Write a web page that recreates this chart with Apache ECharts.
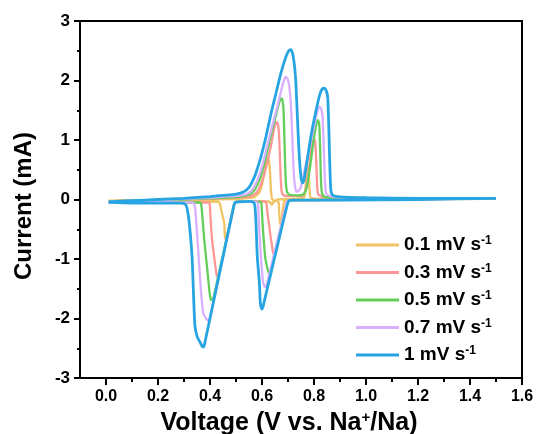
<!DOCTYPE html>
<html>
<head>
<meta charset="utf-8">
<script src="https://cdn.jsdelivr.net/npm/echarts@6/dist/echarts.min.js"></script>
<style>html,body{margin:0;padding:0;background:#fff}#c{width:539px;height:434px}</style>
</head>
<body>
<div id="c"></div>
<script>
// ---- data ----
const rates = ['0.1', '0.3', '0.5', '0.7', '1'];
const colors = ['#f0c364', '#ff9696', '#63cf5a', '#d8b0ff', '#27a5e2'];
const xTickVals = [0, 0.2, 0.4, 0.6, 0.8, 1.0, 1.2, 1.4, 1.6];
const xMinorVals = [0.1, 0.3, 0.5, 0.7, 0.9, 1.1, 1.3, 1.5];
const yTickVals = [-3, -2, -1, 0, 1, 2, 3];

const cv01 = [
  [0.01,-0.02],[0.2,-0.01],[0.4,0.0],[0.5,0.01],[0.57,0.04],[0.59,0.12],[0.60,0.25],[0.61,0.48],[0.617,0.64],[0.622,0.69],[0.627,0.64],[0.631,0.45],[0.635,0.12],[0.640,0.0],[0.65,-0.02],[0.66,0.0],[0.70,0.01],[0.76,0.03],[0.766,0.12],[0.771,0.40],[0.775,0.55],[0.779,0.45],[0.783,0.15],[0.788,0.03],[0.85,0.01],[1.5,0.01],
  [1.5,0.0],[1.0,0.0],[0.8,-0.01],[0.69,-0.01],[0.686,-0.03],[0.683,-0.06],[0.675,-0.38],[0.672,-0.42],[0.669,-0.38],[0.666,-0.2],[0.664,-0.05],[0.655,-0.02],[0.645,-0.04],[0.638,-0.09],[0.632,-0.05],[0.62,-0.03],[0.55,-0.03],[0.50,-0.03],[0.493,-0.06],[0.465,-0.62],[0.461,-0.68],[0.457,-0.60],[0.455,-0.40],[0.449,-0.29],[0.442,-0.15],[0.437,-0.06],[0.43,-0.04],[0.2,-0.04],[0.01,-0.03]
];
const cv03 = [
  [0.01,-0.03],[0.1,-0.02],[0.2,-0.01],[0.3,0.0],[0.4,0.01],[0.5,0.03],[0.56,0.06],[0.58,0.12],[0.60,0.30],[0.62,0.62],[0.635,0.92],[0.645,1.15],[0.652,1.28],[0.657,1.30],[0.662,1.25],[0.666,1.05],[0.670,0.6],[0.674,0.2],[0.680,0.08],[0.70,0.06],[0.75,0.06],[0.76,0.08],[0.77,0.2],[0.78,0.5],[0.79,0.85],[0.796,1.0],[0.800,1.03],[0.805,0.95],[0.809,0.6],[0.812,0.25],[0.816,0.09],[0.83,0.05],[0.9,0.02],[1.5,0.02],
  [1.5,0.01],[1.0,0.0],[0.75,-0.01],[0.70,-0.02],[0.695,-0.06],[0.655,-0.85],[0.651,-0.92],[0.647,-0.93],[0.642,-0.88],[0.635,-0.68],[0.622,-0.26],[0.617,-0.07],[0.612,-0.03],[0.55,-0.03],[0.50,-0.04],[0.494,-0.07],[0.435,-1.25],[0.430,-1.30],[0.426,-1.28],[0.420,-1.10],[0.416,-0.96],[0.408,-0.68],[0.402,-0.30],[0.399,-0.08],[0.394,-0.05],[0.2,-0.05],[0.01,-0.04]
];
const cv05 = [
  [0.01,-0.03],[0.1,-0.02],[0.2,-0.01],[0.3,0.0],[0.4,0.02],[0.5,0.04],[0.55,0.08],[0.57,0.15],[0.59,0.32],[0.61,0.62],[0.63,1.00],[0.65,1.35],[0.663,1.58],[0.670,1.68],[0.675,1.70],[0.679,1.66],[0.683,1.50],[0.687,0.90],[0.691,0.35],[0.696,0.13],[0.706,0.08],[0.74,0.07],[0.76,0.09],[0.772,0.2],[0.785,0.55],[0.797,0.95],[0.807,1.22],[0.813,1.33],[0.817,1.33],[0.821,1.2],[0.824,0.8],[0.827,0.3],[0.831,0.1],[0.84,0.05],[0.9,0.03],[1.2,0.02],[1.5,0.02],
  [1.5,0.01],[1.0,0.0],[0.75,-0.01],[0.70,-0.02],[0.695,-0.07],[0.636,-1.17],[0.632,-1.23],[0.628,-1.24],[0.622,-1.18],[0.612,-0.96],[0.602,-0.39],[0.598,-0.08],[0.593,-0.04],[0.55,-0.03],[0.50,-0.04],[0.493,-0.08],[0.415,-1.62],[0.410,-1.68],[0.405,-1.69],[0.40,-1.62],[0.391,-1.24],[0.378,-0.68],[0.370,-0.25],[0.366,-0.08],[0.36,-0.05],[0.2,-0.05],[0.01,-0.04]
];
const cv07 = [
  [0.01,-0.04],[0.1,-0.02],[0.2,-0.01],[0.3,0.01],[0.4,0.03],[0.5,0.06],[0.54,0.09],[0.56,0.15],[0.58,0.30],[0.60,0.55],[0.62,0.90],[0.64,1.25],[0.66,1.58],[0.675,1.85],[0.685,2.01],[0.692,2.06],[0.698,2.03],[0.705,1.90],[0.711,1.6],[0.716,1.1],[0.721,0.55],[0.726,0.25],[0.733,0.13],[0.742,0.15],[0.75,0.22],[0.775,0.72],[0.80,1.22],[0.812,1.46],[0.820,1.56],[0.827,1.53],[0.833,1.39],[0.837,0.95],[0.840,0.55],[0.844,0.18],[0.850,0.08],[0.88,0.04],[1.0,0.02],[1.5,0.02],
  [1.5,0.01],[1.2,0.0],[0.9,-0.01],[0.72,-0.01],[0.700,-0.02],[0.693,-0.08],[0.62,-1.40],[0.614,-1.47],[0.608,-1.45],[0.603,-1.35],[0.596,-0.96],[0.588,-0.40],[0.585,-0.10],[0.580,-0.04],[0.55,-0.03],[0.51,-0.04],[0.497,-0.05],[0.492,-0.10],[0.402,-1.95],[0.397,-2.02],[0.392,-2.03],[0.385,-2.0],[0.374,-1.91],[0.365,-1.52],[0.352,-0.68],[0.343,-0.15],[0.338,-0.07],[0.33,-0.05],[0.2,-0.05],[0.01,-0.05]
];
const cv10 = [
  [0.01,-0.04],[0.1,-0.02],[0.2,0.0],[0.3,0.02],[0.4,0.05],[0.45,0.07],[0.5,0.09],[0.53,0.13],[0.551,0.21],[0.565,0.32],[0.577,0.45],[0.596,0.72],[0.615,1.05],[0.635,1.45],[0.654,1.79],[0.673,2.13],[0.692,2.40],[0.703,2.50],[0.710,2.52],[0.716,2.48],[0.722,2.35],[0.729,2.05],[0.735,1.50],[0.741,0.92],[0.747,0.50],[0.752,0.32],[0.757,0.28],[0.762,0.34],[0.772,0.61],[0.788,1.06],[0.808,1.50],[0.822,1.76],[0.832,1.86],[0.840,1.87],[0.848,1.82],[0.853,1.70],[0.857,1.20],[0.861,0.55],[0.865,0.15],[0.872,0.07],[0.89,0.05],[1.0,0.03],[1.2,0.02],[1.5,0.02],
  [1.5,0.01],[1.2,0.0],[0.9,-0.01],[0.72,-0.01],[0.705,-0.02],[0.698,-0.08],[0.65,-0.95],[0.612,-1.65],[0.604,-1.80],[0.600,-1.84],[0.596,-1.80],[0.593,-1.70],[0.590,-1.40],[0.582,-0.97],[0.577,-0.40],[0.573,-0.12],[0.568,-0.05],[0.555,-0.03],[0.51,-0.04],[0.497,-0.05],[0.492,-0.10],[0.383,-2.35],[0.378,-2.45],[0.374,-2.48],[0.369,-2.46],[0.362,-2.40],[0.351,-2.31],[0.342,-2.12],[0.336,-1.52],[0.331,-0.96],[0.320,-0.39],[0.312,-0.15],[0.305,-0.08],[0.29,-0.06],[0.2,-0.06],[0.1,-0.06],[0.01,-0.05]
];
const curves = [cv01, cv03, cv05, cv07, cv10];
const widths = [2.3, 2.3, 2.3, 2.3, 2.8];

// ---- chart ----
const FONT = 'Arial, "Liberation Sans", sans-serif';
const chart = echarts.init(document.getElementById('c'), null, {renderer: 'canvas'});
const names = rates.map(r => r + ' mV s-1');
chart.setOption({
  animation: false,
  backgroundColor: '#fff',
  grid: {left: 80, right: 17, top: 21, bottom: 56, containLabel: false, outerBoundsMode: 'none',
         show: true, borderColor: '#000', borderWidth: 2, backgroundColor: 'transparent'},
  legend: {
    orient: 'vertical', left: 351, top: 230, itemGap: 8, itemWidth: 43, itemHeight: 3,
    icon: 'rect', data: names,
    formatter: n => '{t|' + n.replace(' s-1', ' s') + '}{s|-1}',
    textStyle: {
      rich: {
        t: {fontFamily: FONT, fontWeight: 'bold', fontSize: 19, color: '#000', lineHeight: 20},
        s: {fontFamily: FONT, fontWeight: 'bold', fontSize: 12, color: '#000', verticalAlign: 'top', lineHeight: 12}
      }
    }
  },
  xAxis: [{
    type: 'value', min: -0.1, max: 1.6,
    name: '{a|Voltage (V vs. Na}{b|+}{a|/Na)}', nameLocation: 'middle', nameGap: 31,
    nameTextStyle: {padding: [0, 24, 0, 0], rich: {
      a: {fontFamily: FONT, fontWeight: 'bold', fontSize: 25, color: '#000', lineHeight: 26},
      b: {fontFamily: FONT, fontWeight: 'bold', fontSize: 15, color: '#000', verticalAlign: 'top', lineHeight: 15}
    }},
    axisLine: {onZero: false, lineStyle: {color: '#000', width: 2}},
    axisTick: {customValues: xTickVals, length: 7, lineStyle: {color: '#000', width: 2}},
    axisLabel: {customValues: xTickVals, formatter: v => v.toFixed(1), margin: 11, color: '#000', fontFamily: FONT, fontWeight: 'bold', fontSize: 16},
    splitLine: {show: false}
  }, {
    type: 'value', min: -0.1, max: 1.6, position: 'bottom',
    axisLine: {show: false, onZero: false},
    axisTick: {customValues: xMinorVals, length: 4, lineStyle: {color: '#000', width: 2}},
    axisLabel: {show: false},
    splitLine: {show: false}
  }],
  yAxis: {
    type: 'value', min: -3, max: 3, interval: 1,
    name: 'Current (mA)', nameLocation: 'middle', nameGap: 44,
    nameTextStyle: {fontFamily: FONT, fontWeight: 'bold', fontSize: 24, color: '#000', padding: [0, 13, 0, 0]},
    axisLine: {onZero: false, lineStyle: {color: '#000', width: 2}},
    axisTick: {length: 6, lineStyle: {color: '#000', width: 2}},
    minorTick: {show: true, splitNumber: 2, length: 3, lineStyle: {color: '#000', width: 2}},
    axisLabel: {formatter: v => String(v), margin: 10, color: '#000', fontFamily: FONT, fontWeight: 'bold', fontSize: 17},
    splitLine: {show: false}
  },
  series: curves.map((d, i) => ({
    name: names[i], type: 'line', data: d, xAxisIndex: 0,
    showSymbol: false, symbol: 'none', smooth: 0.2,
    lineStyle: {color: colors[i], width: widths[i]}, itemStyle: {color: colors[i]}
  }))
});
</script>
</body>
</html>
